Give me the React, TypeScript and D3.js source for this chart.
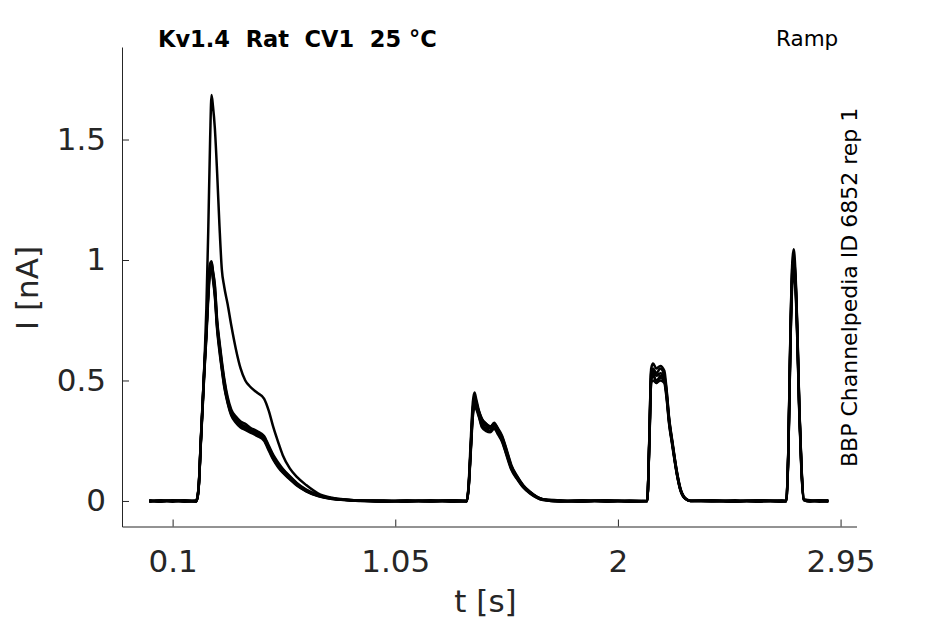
import * as d3 from "d3";
import { useEffect, useRef } from "react";

const WIDTH = 945;
const HEIGHT = 624;

const XLIM: [number, number] = [-0.116, 3.018];
const YLIM: [number, number] = [-0.106, 1.884];
const X_TICKS = [0.1, 1.05, 2, 2.95];
const Y_TICKS = [0, 0.5, 1, 1.5];

const TITLE = "Kv1.4  Rat  CV1  25 °C";
const PROTOCOL = "Ramp";
const SOURCE = "BBP Channelpedia ID 6852 rep 1";

// sample times [s], shared by all sweeps
const T = [
  0, 0.05, 0.1, 0.15, 0.2,
  0.205, 0.212, 0.22, 0.228, 0.236, 0.244, 0.252, 0.26, 0.266, 0.272, 0.28, 0.29,
  0.3, 0.31, 0.32, 0.335, 0.35, 0.37, 0.39, 0.41, 0.43, 0.46, 0.49, 0.51, 0.53,
  0.55, 0.57, 0.6, 0.63, 0.67, 0.72, 0.78, 0.85, 0.92,
  1.0, 1.1, 1.2, 1.3, 1.355,
  1.363, 1.372, 1.381, 1.388, 1.396, 1.408, 1.42, 1.438, 1.455, 1.472, 1.489,
  1.506, 1.526, 1.545, 1.569, 1.596, 1.626, 1.68,
  1.75, 1.85, 1.95, 2.05, 2.125,
  2.134, 2.142, 2.15, 2.164, 2.181, 2.198, 2.206, 2.219, 2.232, 2.252, 2.266, 2.287, 2.31,
  2.4, 2.5, 2.6, 2.7, 2.718,
  2.727, 2.736, 2.744, 2.75, 2.757, 2.766, 2.774, 2.783, 2.793,
  2.82, 2.86, 2.898,
];

// current [nA] per sweep
const SWEEP_A = [
  0.002, -0.003, 0.001, -0.002, 0.001,
  0.01, 0.07, 0.24, 0.4, 0.58, 0.8, 1.12, 1.5, 1.685, 1.64, 1.55, 1.36, 1.14, 0.96, 0.89,
  0.815, 0.73, 0.63, 0.55, 0.5, 0.475, 0.45, 0.425, 0.375, 0.305, 0.245, 0.19, 0.135, 0.1,
  0.066, 0.032, 0.013, 0.005, 0.001,
  -0.002, 0.002, -0.001, 0.003, 0.0,
  0.07, 0.25, 0.41, 0.45, 0.42, 0.37, 0.34, 0.32, 0.31, 0.32, 0.3, 0.27, 0.21, 0.15, 0.105,
  0.065, 0.037, 0.007,
  0.001, -0.003, 0.002, -0.001, 0.0,
  0.26, 0.55, 0.57, 0.55, 0.56, 0.54, 0.48, 0.34, 0.25, 0.12, 0.055, 0.012, 0.0,
  0.002, -0.002, 0.003, -0.001, 0.001,
  0.21, 0.7, 0.99, 1.045, 0.96, 0.7, 0.39, 0.15, 0.006,
  -0.002, 0.002, -0.001,
];
const SWEEP_B = [
  -0.002, 0.003, -0.001, 0.002, -0.003,
  0.01, 0.07, 0.24, 0.4, 0.56, 0.7, 0.87, 0.98, 0.99, 0.95, 0.89, 0.74, 0.65, 0.57, 0.5,
  0.42, 0.37, 0.34, 0.32, 0.31, 0.3, 0.285, 0.265, 0.225, 0.185, 0.155, 0.13, 0.1, 0.072,
  0.045, 0.024, 0.01, 0.004, 0.001,
  0.002, -0.002, 0.003, -0.002, 0.001,
  0.06, 0.22, 0.38, 0.43, 0.41, 0.36, 0.33, 0.31, 0.3, 0.31, 0.29, 0.26, 0.2, 0.14, 0.1,
  0.062, 0.035, 0.006,
  -0.002, 0.002, -0.003, 0.001, -0.001,
  0.25, 0.53, 0.54, 0.52, 0.53, 0.51, 0.46, 0.33, 0.24, 0.115, 0.05, 0.01, 0.001,
  -0.001, 0.003, -0.002, 0.002, 0.0,
  0.2, 0.68, 0.95, 0.99, 0.93, 0.68, 0.38, 0.14, 0.005,
  0.002, -0.003, 0.001,
];
const SWEEP_C = [
  0.003, -0.001, 0.002, -0.003, 0.002,
  0.012, 0.075, 0.25, 0.41, 0.57, 0.71, 0.86, 0.96, 0.97, 0.93, 0.86, 0.72, 0.63, 0.55, 0.48,
  0.41, 0.36, 0.33, 0.31, 0.3, 0.29, 0.275, 0.255, 0.215, 0.175, 0.145, 0.12, 0.092, 0.066,
  0.041, 0.021, 0.009, 0.003, 0.0,
  -0.003, 0.001, -0.002, 0.002, -0.001,
  0.055, 0.21, 0.36, 0.4, 0.39, 0.35, 0.31, 0.3, 0.29, 0.32, 0.28, 0.25, 0.19, 0.135, 0.095,
  0.058, 0.032, 0.005,
  0.002, -0.001, 0.003, -0.002, 0.001,
  0.24, 0.5, 0.52, 0.5, 0.51, 0.5, 0.45, 0.32, 0.235, 0.11, 0.048, 0.01, 0.0,
  0.003, -0.001, 0.001, -0.003, 0.0,
  0.19, 0.65, 0.92, 0.96, 0.91, 0.66, 0.37, 0.13, 0.004,
  -0.002, 0.001, 0.003,
];
const SWEEP_D = [
  -0.001, 0.002, -0.003, 0.001, 0.0,
  0.009, 0.068, 0.235, 0.39, 0.55, 0.69, 0.86, 0.97, 0.98, 0.94, 0.87, 0.73, 0.64, 0.56, 0.49,
  0.415, 0.365, 0.335, 0.315, 0.305, 0.295, 0.28, 0.26, 0.22, 0.18, 0.15, 0.125, 0.096, 0.07,
  0.043, 0.023, 0.01, 0.004, 0.002,
  0.001, -0.003, 0.002, 0.0, -0.002,
  0.058, 0.215, 0.37, 0.41, 0.4, 0.355, 0.32, 0.3, 0.31, 0.3, 0.29, 0.255, 0.195, 0.14, 0.098,
  0.06, 0.034, 0.006,
  -0.001, 0.003, -0.002, 0.002, -0.001,
  0.245, 0.51, 0.53, 0.49, 0.52, 0.5, 0.455, 0.325, 0.24, 0.112, 0.05, 0.011, 0.001,
  0.0, -0.002, 0.003, -0.001, 0.002,
  0.195, 0.66, 0.93, 0.97, 0.92, 0.67, 0.375, 0.135, 0.005,
  0.003, -0.001, -0.002,
];
const SWEEP_E = [
  0.001, -0.002, 0.003, 0.0, -0.002,
  0.011, 0.072, 0.245, 0.405, 0.565, 0.705, 0.875, 0.985, 0.995, 0.955, 0.9, 0.75, 0.66, 0.58, 0.51,
  0.43, 0.38, 0.35, 0.33, 0.32, 0.305, 0.29, 0.27, 0.23, 0.19, 0.16, 0.134, 0.103, 0.075,
  0.047, 0.025, 0.011, 0.004, 0.001,
  -0.002, 0.002, 0.0, -0.003, 0.002,
  0.062, 0.225, 0.385, 0.42, 0.4, 0.37, 0.34, 0.32, 0.305, 0.325, 0.295, 0.265, 0.205, 0.145, 0.102,
  0.064, 0.036, 0.007,
  0.003, -0.002, 0.001, -0.001, 0.0,
  0.255, 0.54, 0.55, 0.53, 0.55, 0.52, 0.47, 0.335, 0.245, 0.118, 0.052, 0.011, 0.0,
  -0.002, 0.001, -0.003, 0.002, -0.001,
  0.205, 0.69, 0.97, 1.01, 0.94, 0.69, 0.385, 0.145, 0.006,
  0.001, 0.002, -0.002,
];
const SWEEP_F = [
  -0.003, 0.001, 0.0, 0.003, -0.001,
  0.008, 0.065, 0.23, 0.385, 0.545, 0.68, 0.84, 0.95, 0.96, 0.92, 0.85, 0.71, 0.62, 0.545, 0.475,
  0.405, 0.355, 0.325, 0.305, 0.295, 0.285, 0.27, 0.25, 0.21, 0.17, 0.14, 0.117, 0.09, 0.064,
  0.04, 0.02, 0.008, 0.003, 0.0,
  0.001, 0.0, -0.002, 0.003, -0.002,
  0.052, 0.2, 0.35, 0.39, 0.38, 0.345, 0.305, 0.29, 0.285, 0.3, 0.275, 0.245, 0.185, 0.13, 0.092,
  0.056, 0.03, 0.004,
  -0.002, 0.001, 0.002, -0.003, 0.001,
  0.235, 0.49, 0.5, 0.49, 0.5, 0.49, 0.44, 0.315, 0.23, 0.108, 0.046, 0.009, 0.0,
  0.001, -0.003, 0.002, 0.0, -0.002,
  0.185, 0.64, 0.9, 0.94, 0.89, 0.65, 0.36, 0.125, 0.004,
  -0.001, 0.003, 0.001,
];

const SWEEPS = [SWEEP_F, SWEEP_C, SWEEP_D, SWEEP_B, SWEEP_E, SWEEP_A];

const AXIS_COLOR = "#262626";
const FONT = "'DejaVu Sans', sans-serif";

export default function App() {
  const svgRef = useRef<SVGSVGElement>(null);

  useEffect(() => {
    if (!svgRef.current) return;
    const svg = d3.select(svgRef.current);
    svg.selectAll("*").remove();

    const margin = { top: 47, right: 88.5, bottom: 97.5, left: 122 };

    const x = d3
      .scaleLinear()
      .domain(XLIM)
      .range([margin.left, WIDTH - margin.right]);
    const y = d3
      .scaleLinear()
      .domain(YLIM)
      .range([HEIGHT - margin.bottom, margin.top]);

    // sweeps
    const line = d3
      .line<number>()
      .x((_, i) => x(T[i]))
      .y((d) => y(d))
      .curve(d3.curveMonotoneX);

    svg
      .append("g")
      .selectAll("path")
      .data(SWEEPS)
      .enter()
      .append("path")
      .attr("d", (d) => line(d))
      .attr("fill", "none")
      .attr("stroke", "#000")
      .attr("stroke-width", 2.5)
      .attr("stroke-linejoin", "round");

    // axes, MATLAB style: ticks pointing in, no box
    const xAxis = svg
      .append("g")
      .attr("transform", `translate(0,${HEIGHT - margin.bottom})`)
      .call(
        d3
          .axisBottom(x)
          .tickValues(X_TICKS)
          .tickFormat((d) => String(d))
          .tickSizeInner(-7)
          .tickSizeOuter(0)
          .tickPadding(23),
      );
    const yAxis = svg
      .append("g")
      .attr("transform", `translate(${margin.left},0)`)
      .call(
        d3
          .axisLeft(y)
          .tickValues(Y_TICKS)
          .tickFormat((d) => String(d))
          .tickSizeInner(-7)
          .tickSizeOuter(0)
          .tickPadding(16),
      );
    for (const ax of [xAxis, yAxis]) {
      ax.select(".domain").attr("stroke", AXIS_COLOR);
      ax.selectAll(".tick line").attr("stroke", AXIS_COLOR);
      ax.selectAll(".tick text")
        .attr("fill", AXIS_COLOR)
        .attr("font-family", FONT)
        .attr("font-size", 31);
    }

    // axis labels
    svg
      .append("text")
      .attr("x", 485.5)
      .attr("y", 611.5)
      .attr("text-anchor", "middle")
      .attr("font-family", FONT)
      .attr("font-size", 31)
      .attr("fill", AXIS_COLOR)
      .text("t [s]");
    svg
      .append("text")
      .attr("transform", "translate(38,288) rotate(-90)")
      .attr("text-anchor", "middle")
      .attr("font-family", FONT)
      .attr("font-size", 31)
      .attr("fill", AXIS_COLOR)
      .text("I [nA]");

    // annotations
    svg
      .append("text")
      .attr("x", 158)
      .attr("y", 47)
      .attr("font-family", FONT)
      .attr("font-weight", "bold")
      .attr("font-size", 22.5)
      .attr("fill", "#000")
      .style("white-space", "pre")
      .text(TITLE);
    svg
      .append("text")
      .attr("x", 776)
      .attr("y", 46)
      .attr("font-family", FONT)
      .attr("font-size", 21.5)
      .attr("fill", "#000")
      .text(PROTOCOL);
    svg
      .append("text")
      .attr("transform", "translate(857,467) rotate(-90)")
      .attr("font-family", FONT)
      .attr("font-size", 22)
      .attr("fill", "#000")
      .text(SOURCE);
  }, []);

  return (
    <svg
      ref={svgRef}
      width={WIDTH}
      height={HEIGHT}
      style={{ position: "absolute", left: 0, top: 0, background: "#fff" }}
    />
  );
}
